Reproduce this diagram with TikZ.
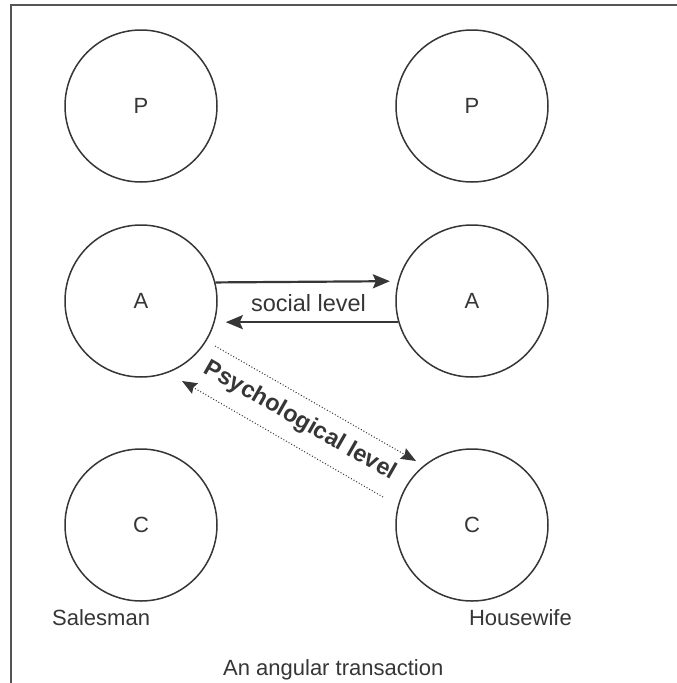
\documentclass[tikz,border=0pt]{standalone}
\usepackage{fontspec}
\setmainfont{Liberation Sans}
\usetikzlibrary{arrows.meta}
\definecolor{ink}{HTML}{363636}
\definecolor{frame}{HTML}{555555}
\begin{document}
\begin{tikzpicture}[x=1pt,y=1pt,
  ego/.style={circle,draw=ink,line width=1.5pt,minimum size=152pt,inner sep=0pt,
    text=ink,font=\fontsize{22}{26}\selectfont},
  lbl/.style={text=ink,inner sep=0pt,font=\fontsize{22}{26}\selectfont},
  biglbl/.style={text=ink,inner sep=0pt,font=\fontsize{23.5}{28}\selectfont},
  solidarr/.style={draw=ink,line width=2.2pt,-{Stealth[length=17pt,width=14pt,inset=3pt]}},
  dotarr/.style={draw=ink,line width=1pt,dash pattern=on 1pt off 2pt,
    -{Stealth[length=15pt,width=12pt,inset=2pt,sep=0pt]}}]
\useasboundingbox[fill=white] (0,0) rectangle (677,-683);
% frame (top and left sides)
\draw[frame,line width=1.6pt] (11,-683) -- (11,-5) -- (677,-5);
% ego states
\node[ego] (p1) at (141,-106) {P};
\node[ego] (p2) at (472,-106) {P};
\node[ego] (a1) at (141,-301) {A};
\node[ego] (a2) at (472,-301) {A};
\node[ego] (c1) at (141,-525) {C};
\node[ego] (c2) at (472,-525) {C};
% social level
\draw[solidarr,shorten >=8pt] (a1.14.5) -- (a2.165.5);
\draw[solidarr,shorten >=11pt] (a2.196) -- (a1.-16);
\node[biglbl,anchor=base] (soc) at (308.5,-311) {social level};
% psychological level
\coordinate (u1) at (215,-346);
\coordinate (u2) at (416,-461);
\coordinate (l1) at (383,-497);
\coordinate (l2) at (182,-381);
\draw[dotarr] (u1) -- (u2);
\draw[dotarr] (l1) -- (l2);
\node[biglbl,rotate=-29.8,font=\fontsize{23.5}{28}\selectfont\bfseries] (psy) at (300,-421) {Psychological level};
% captions
\node[lbl,anchor=base west] (sm) at (52,-625) {Salesman};
\node[lbl,anchor=base east] (hw) at (572,-625) {Housewife};
\node[lbl,anchor=base west] (cap) at (223,-675) {An angular transaction};
\end{tikzpicture}
\end{document}
